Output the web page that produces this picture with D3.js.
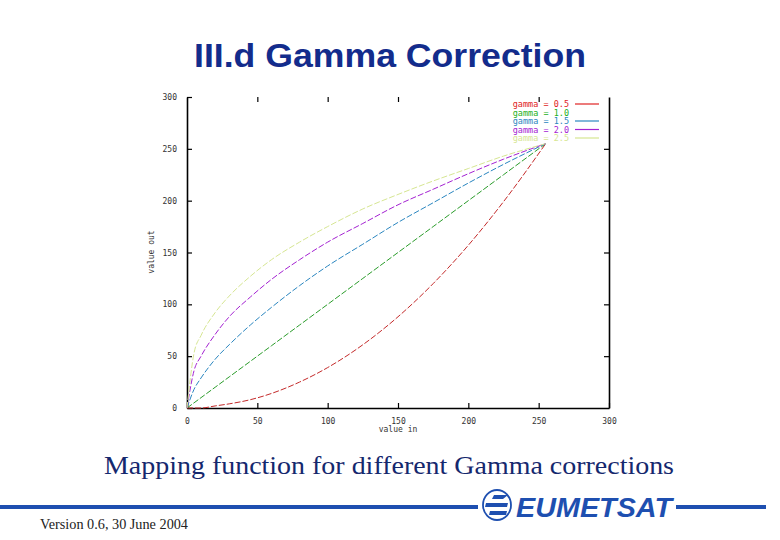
<!DOCTYPE html>
<html><head><meta charset="utf-8">
<script src="https://cdn.jsdelivr.net/npm/d3@7"></script>
<style>body{margin:0;background:#fff}svg{display:block}</style>
</head><body>
<svg id="c" width="780" height="540"></svg>
<script>
const xTicks = [0, 50, 100, 150, 200, 250, 300];
const yTicks = [0, 50, 100, 150, 200, 250, 300];
const valueIn = [0, 5, 10, 20, 30, 45, 60, 80, 100, 125, 150, 175, 200, 225, 255];
const gamma05 = [0, 0, 0, 2, 4, 8, 14, 25, 39, 61, 88, 120, 157, 199, 255];
const gamma10 = [0, 5, 10, 20, 30, 45, 60, 80, 100, 125, 150, 175, 200, 225, 255];
const gamma15 = [0, 18, 29, 47, 61, 80, 97, 118, 137, 158, 179, 198, 217, 235, 255];
const gamma20 = [0, 36, 50, 71, 88, 107, 124, 143, 160, 178, 196, 211, 226, 240, 255];
const gamma25 = [0, 53, 70, 92, 108, 127, 143, 160, 175, 192, 206, 219, 231, 243, 255];
const seriesNames = ["gamma = 0.5", "gamma = 1.0", "gamma = 1.5", "gamma = 2.0", "gamma = 2.5"];
const seriesData = [gamma05, gamma10, gamma15, gamma20, gamma25];
const seriesColors = ["#c42a2a", "#2a9c2a", "#2a86c0", "#a422d2", "#d6e692"];
const legendColors = ["#e02222", "#22b022", "#2a86c0", "#a422d2", "#d6e692"];

const svg = d3.select("#c");
const x = d3.scaleLinear().domain([0, 300]).range([187, 609]);
const y = d3.scaleLinear().domain([0, 300]).range([408, 97]);

// Title
svg.append("text").attr("x", 390).attr("y", 67).attr("text-anchor", "middle")
  .attr("font-family", "Liberation Sans, Arial, sans-serif").attr("font-weight", "bold")
  .attr("font-size", 34).attr("fill", "#132c8c")
  .attr("textLength", 392).attr("lengthAdjust", "spacingAndGlyphs").text("III.d Gamma Correction");

const tickFont = "DejaVu Sans Mono, monospace";
// Axes
const gx = svg.append("g").attr("transform", `translate(0,${y(0)})`)
  .call(d3.axisBottom(x).tickValues(xTicks).tickSizeInner(-5).tickSizeOuter(0).tickPadding(10));
const gxTop = svg.append("g").attr("transform", `translate(0,${y(300)})`)
  .call(d3.axisTop(x).tickValues(xTicks.slice(1, -1)).tickSizeInner(-5).tickSizeOuter(0).tickFormat(""));
gxTop.select(".domain").remove();
const gy = svg.append("g").attr("transform", `translate(${x(0)},0)`)
  .call(d3.axisLeft(y).tickValues(yTicks).tickSizeInner(-5).tickSizeOuter(0).tickPadding(10));
const gyR = svg.append("g").attr("transform", `translate(${x(300)},0)`)
  .call(d3.axisRight(y).tickValues(yTicks.slice(1, -1)).tickSizeInner(-5).tickSizeOuter(0).tickFormat(""));
[gx, gy, gxTop, gyR].forEach(g => {
  g.selectAll(".domain").attr("stroke", "#000").attr("stroke-width", 1.6);
  g.selectAll(".tick line").attr("stroke", "#000").attr("stroke-width", 1.2);
  g.selectAll("text").attr("font-family", tickFont).attr("font-size", 8).attr("fill", "#333");
});

svg.append("text").attr("x", 398).attr("y", 432).attr("text-anchor", "middle")
  .attr("font-family", tickFont).attr("font-size", 8).attr("fill", "#333").text("value in");
svg.append("text").attr("transform", "translate(154,252) rotate(-90)").attr("text-anchor", "middle")
  .attr("font-family", tickFont).attr("font-size", 8).attr("fill", "#333").text("value out");

// Curves
const line = d3.line().x(d => x(d[0])).y(d => y(d[1])).curve(d3.curveMonotoneX);
seriesData.forEach((vals, i) => {
  svg.append("path").datum(valueIn.map((v, j) => [v, vals[j]]))
    .attr("d", line).attr("fill", "none").attr("stroke", seriesColors[i])
    .attr("stroke-width", 1).attr("stroke-dasharray", "6,2");
});

// Legend
seriesNames.forEach((n, i) => {
  const ly = 104 + i * 8.5;
  svg.append("text").attr("x", 569).attr("y", ly + 3).attr("text-anchor", "end")
    .attr("font-family", tickFont).attr("font-size", 8.5).attr("fill", legendColors[i]).text(n);
  if (i !== 1) svg.append("line").attr("x1", 575).attr("x2", 599).attr("y1", ly).attr("y2", ly)
    .attr("stroke", legendColors[i]).attr("stroke-width", 1.2);
});

// Caption
svg.append("text").attr("x", 389).attr("y", 474).attr("text-anchor", "middle")
  .attr("font-family", "Liberation Serif, Times New Roman, serif").attr("font-size", 26)
  .attr("fill", "#15286e").attr("textLength", 570).attr("lengthAdjust", "spacingAndGlyphs")
  .text("Mapping function for different Gamma corrections");

// Footer
svg.append("rect").attr("x", 0).attr("y", 505).attr("width", 478).attr("height", 4).attr("fill", "#1e4fb0");
svg.append("rect").attr("x", 676).attr("y", 505).attr("width", 90).attr("height", 4).attr("fill", "#1e4fb0");
const logo = svg.append("g");
logo.append("ellipse").attr("cx", 497).attr("cy", 505).attr("rx", 14).attr("ry", 15)
  .attr("fill", "none").attr("stroke", "#1e4fb0").attr("stroke-width", 1.8);
logo.append("path").attr("d", "M486,503 L508,503 L507,507 L485,507 Z M490,511 L507,511 L506,515 L489,515 Z M494,495 L508,495 L503,499 L492,499 Z")
  .attr("fill", "#1e4fb0");
logo.append("text").attr("x", 516).attr("y", 517).attr("font-family", "Liberation Sans, Arial, sans-serif")
  .attr("font-weight", "bold").attr("font-style", "italic").attr("font-size", 28).attr("fill", "#1e4fb0")
  .attr("textLength", 156).attr("lengthAdjust", "spacingAndGlyphs").text("EUMETSAT");
svg.append("text").attr("x", 40).attr("y", 529).attr("font-family", "Liberation Serif, Times New Roman, serif")
  .attr("font-size", 14).attr("fill", "#222").attr("textLength", 148).attr("lengthAdjust", "spacingAndGlyphs")
  .text("Version 0.6, 30 June 2004");
</script>
</body></html>
